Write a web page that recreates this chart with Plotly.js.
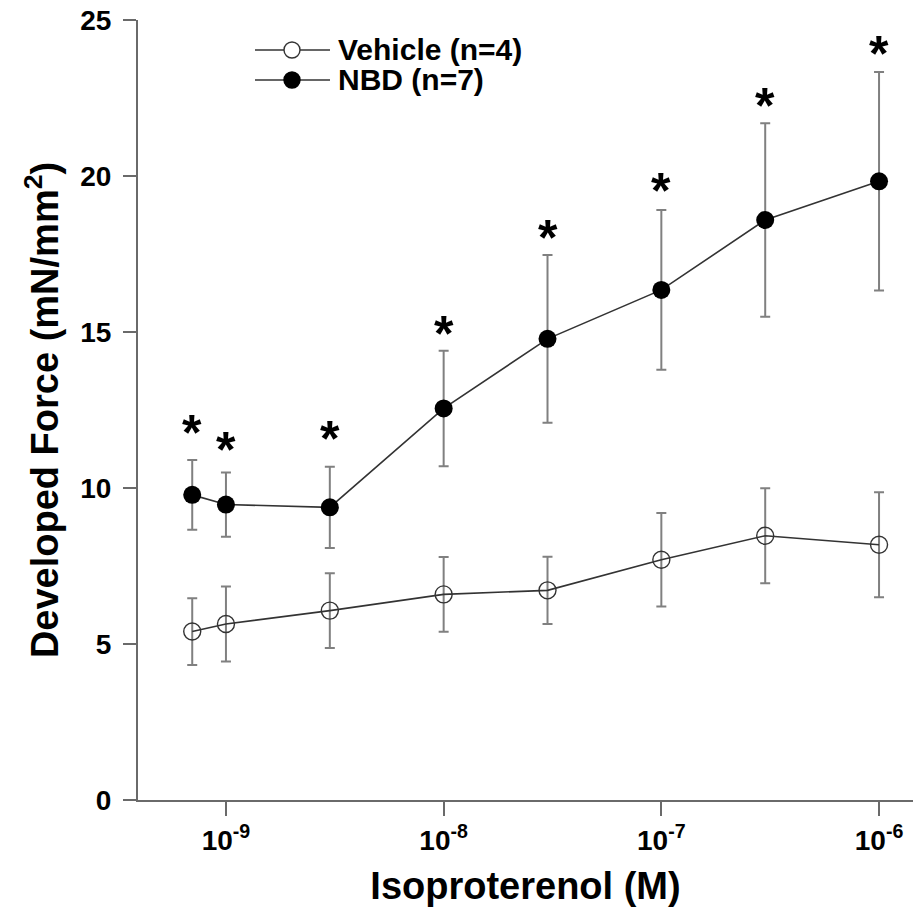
<!DOCTYPE html>
<html>
<head>
<meta charset="utf-8">
<script src="https://cdn.plot.ly/plotly-3.0.1.min.js"></script>
<style>html,body{margin:0;padding:0;background:#fff;}#chart{width:913px;height:909px;}</style>
</head>
<body>
<div id="chart"></div>
<script>
// Isoproterenol concentrations (M)
const concentrations = [7e-10, 1e-9, 3e-9, 1e-8, 3e-8, 1e-7, 3e-7, 1e-6];
// Vehicle (n=4)
const vehicleMean = [5.40, 5.64, 6.07, 6.59, 6.72, 7.70, 8.47, 8.18];
const vehicleSEM  = [1.07, 1.20, 1.20, 1.20, 1.08, 1.50, 1.52, 1.68];
// NBD (n=7)
const nbdMean = [9.78, 9.47, 9.38, 12.55, 14.78, 16.35, 18.59, 19.83];
const nbdSEM  = [1.12, 1.03, 1.30, 1.85, 2.69, 2.56, 3.10, 3.50];
// significance markers for NBD points and the height (in mN/mm²) where each is printed
const nbdSignif = ["*", "*", "*", "*", "*", "*", "*", "*"];
const signifHeight = [11.94, 11.41, 11.76, 15.13, 18.2, 19.71, 22.44, 24.1];
const seriesNames = ["Vehicle (n=4)", "NBD (n=7)"];
const xTickVals = [1e-9, 1e-8, 1e-7, 1e-6];
const xTickText = ["10<sup>-9</sup>", "10<sup>-8</sup>", "10<sup>-7</sup>", "10<sup>-6</sup>"];
const yTickVals = [0, 5, 10, 15, 20, 25];

const FONT = "Liberation Sans, Arial, Helvetica, sans-serif";
const LINE = "#333333";
const ERR = "#808080";
const AXIS = "#6a6a6a";

const traces = [
  {
    x: concentrations, y: vehicleMean, name: seriesNames[0], type: "scatter", mode: "lines+markers",
    line: {color: LINE, width: 1.6},
    marker: {symbol: "circle-open", size: 17, color: LINE, line: {color: LINE, width: 1.4}},
    error_y: {type: "data", array: vehicleSEM, visible: true, color: ERR, thickness: 2, width: 5},
    showlegend: false
  },
  {
    x: concentrations, y: nbdMean, name: seriesNames[1], type: "scatter", mode: "lines+markers",
    line: {color: LINE, width: 1.6},
    marker: {symbol: "circle", size: 18, color: "#000"},
    error_y: {type: "data", array: nbdSEM, visible: true, color: ERR, thickness: 2, width: 5},
    showlegend: false
  }
];

const annotations = concentrations.map((c, i) => ({
  x: Math.log10(c), y: signifHeight[i], xref: "x", yref: "y",
  text: nbdSignif[i], showarrow: false, yanchor: "middle", yshift: -6,
  font: {family: FONT, size: 50, color: "#000", weight: "bold"}
}));

// Manual legend (paper coordinates)
const plotL = 138, plotW = 775, plotT = 20, plotH = 780;
const px = v => (v - plotL) / plotW;
const py = v => (plotT + plotH - v) / plotH;
const legendRows = [50, 80];
const shapes = [];
legendRows.forEach((ry, i) => {
  shapes.push({type: "line", xref: "paper", yref: "paper", x0: px(255), x1: px(330), y0: py(ry), y1: py(ry),
    line: {color: LINE, width: 1.6}});
  shapes.push({type: "circle", xref: "paper", yref: "paper", xsizemode: "pixel", ysizemode: "pixel",
    xanchor: px(292), yanchor: py(ry), x0: -8, x1: 8, y0: -8, y1: 8,
    fillcolor: i === 0 ? "#fff" : "#000", line: {color: i === 0 ? LINE : "#000", width: 1.4}});
  annotations.push({xref: "paper", yref: "paper", x: px(336), y: py(ry), xanchor: "left", yanchor: "middle",
    text: seriesNames[i], showarrow: false, font: {family: FONT, size: 30, color: "#000", weight: "bold"}});
});

const layout = {
  width: 913, height: 909,
  margin: {l: 138, r: 0, t: 20, b: 109, pad: 0},
  paper_bgcolor: "#fff", plot_bgcolor: "#fff",
  font: {family: FONT, color: "#000", weight: "bold"},
  xaxis: {
    type: "log", range: [-9.404, -5.844],
    tickvals: xTickVals, ticktext: xTickText,
    ticks: "outside", ticklen: 14, tickwidth: 2, tickcolor: AXIS,
    showline: true, linecolor: AXIS, linewidth: 2, showgrid: false, zeroline: false,
    tickfont: {family: FONT, size: 28, color: "#000", weight: "bold"},
    title: {text: "Isoproterenol (M)", font: {family: FONT, size: 38, color: "#000", weight: "bold"}, standoff: 18}
  },
  yaxis: {
    range: [0, 25], tickvals: yTickVals,
    ticks: "outside", ticklen: 13, tickwidth: 2, tickcolor: AXIS, ticklabelstandoff: 6,
    showline: true, linecolor: AXIS, linewidth: 2, showgrid: false, zeroline: false,
    tickfont: {family: FONT, size: 28, color: "#000", weight: "bold"},
    title: {text: "Developed Force (mN/mm<sup>2</sup>)", font: {family: FONT, size: 38, color: "#000", weight: "bold"}, standoff: 10}
  },
  showlegend: false,
  annotations: annotations,
  shapes: shapes
};

Plotly.newPlot("chart", traces, layout, {displayModeBar: false, staticPlot: true});
</script>
</body>
</html>
